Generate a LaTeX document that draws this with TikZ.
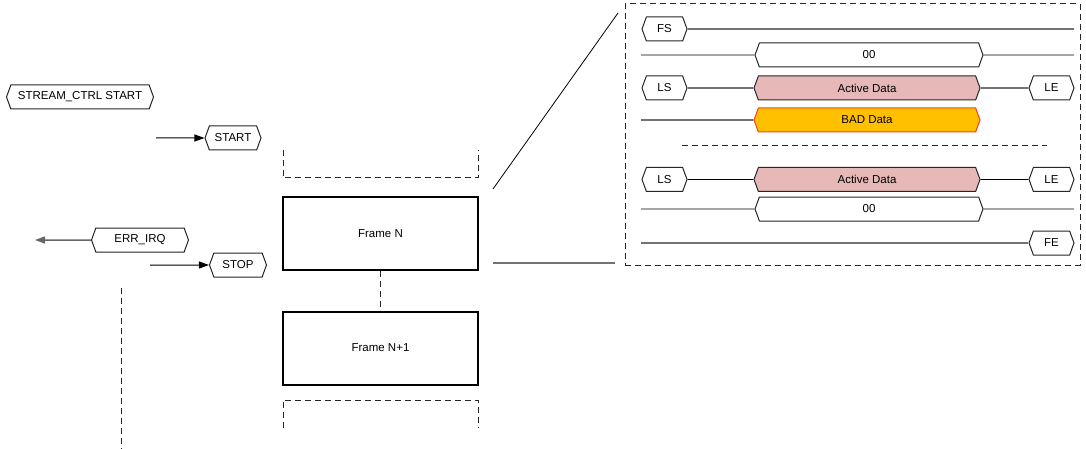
\documentclass[tikz,border=0pt]{standalone}
\usepackage{fontspec}
\setmainfont{Liberation Sans}
\usepackage{xcolor}
\usetikzlibrary{positioning, arrows.meta, shapes.symbols}
\definecolor{actfill}{HTML}{E6B8B7}
\definecolor{badfill}{HTML}{FFC000}
\definecolor{badline}{HTML}{FF3B1F}
\definecolor{edge}{HTML}{262626}

\begin{document}
\begin{tikzpicture}[
      x=1pt, y=-1pt,
      font=\fontsize{11.5}{13}\selectfont,
      hexa/.style={signal, signal to=east and west, signal pointer angle=140,
        draw=edge, line width=1pt, fill=white, minimum height=24,
        inner xsep=2pt, inner ysep=0pt},
      tag/.style={hexa, minimum width=45},
      wide/.style={hexa, minimum width=226},
      frame/.style={draw, line width=2pt, minimum width=195, minimum height=73},
      dsh/.style={draw=edge, dash pattern=on 6pt off 4pt, line width=1pt},
      sig/.style={draw=black!55, line width=1.6pt},
      thin/.style={draw=black, line width=0.9pt},
      arr/.style={-{Triangle[length=10pt, width=7pt]}, line width=1pt}
    ]
    \useasboundingbox (0,0) rectangle (1086,449);

    % control events
    \node[hexa, minimum width=147] (ctrl)  at (80,97)   {STREAM\_CTRL START};
    \node[hexa, minimum width=56]  (start) at (233,138) {START};
    \node[hexa, minimum width=97]  (err)   at (140,240) {ERR\_IRQ};
    \node[hexa, minimum width=57]  (stop)  at (238,265) {STOP};
    \coordinate (startin) at (156,138);
    \coordinate (stopin)  at (150,265);
    \coordinate (errout)  at (35,240);
    \draw[arr] (startin) -- (start);
    \draw[arr] (stopin) -- (stop);
    \draw[arr, draw=black!60, line width=1.5pt] (err) -- (errout);
    \draw[dsh] (121,288) -- (121,449);

    % frames
    \node[frame] (fn)  at (380.5,233.5) {Frame N};
    \node[frame] (fn1) at (380.5,348)   {Frame N+1};
    \draw[dsh] (283,150) -- (283,178) -- (478,178) -- (478,150);
    \draw[dsh] (283,428) -- (283,400) -- (478,400) -- (478,428);
    \draw[dsh] (fn.south) -- (fn1.north);

    % zoom window
    \node[dsh, minimum width=455, minimum height=261] (win) at (852.5,134.5) {};
    \coordinate (zoomtop) at (618,13);
    \coordinate (zoombot) at (615,263);
    \draw[line width=0.8pt] (493,189) -- (zoomtop);
    \draw[sig] (493,263) -- (zoombot);

    % line 1
    \node[tag] (fs) at (664.5,29) {FS};
    \coordinate (fsend) at (1074,29);
    \draw[sig] (fs) -- (fsend);
    % line 2
    \node[wide, minimum width=228] (zero1) at (869,55) {00};
    \draw[thin] (641,55) -- (zero1) -- (1074,55);
    % line 3
    \node[tag] (ls1) at (664.5,88) {LS};
    \node[wide, fill=actfill] (act1) at (867,88) {Active Data};
    \node[tag] (le1) at (1051.5,88) {LE};
    \draw[sig] (ls1) -- (act1) -- (le1);
    % line 4
    \node[wide, fill=badfill, draw=badline] (bad) at (867,120) {BAD Data};
    \draw[sig] (641,120) -- (bad);

    \draw[dsh] (682,145.5) -- (1047,145.5);

    % line 5
    \node[tag] (ls2) at (664.5,179.5) {LS};
    \node[wide, fill=actfill] (act2) at (867,179.5) {Active Data};
    \node[tag] (le2) at (1051.5,179.5) {LE};
    \draw[thin] (ls2) -- (act2) -- (le2);
    % line 6
    \node[wide, minimum width=228] (zero2) at (869,209) {00};
    \draw[thin] (641,209) -- (zero2) -- (1074,209);
    % line 7
    \node[tag] (fe) at (1051.5,243) {FE};
    \draw[sig] (641,243) -- (fe);
  \end{tikzpicture}
\end{document}
